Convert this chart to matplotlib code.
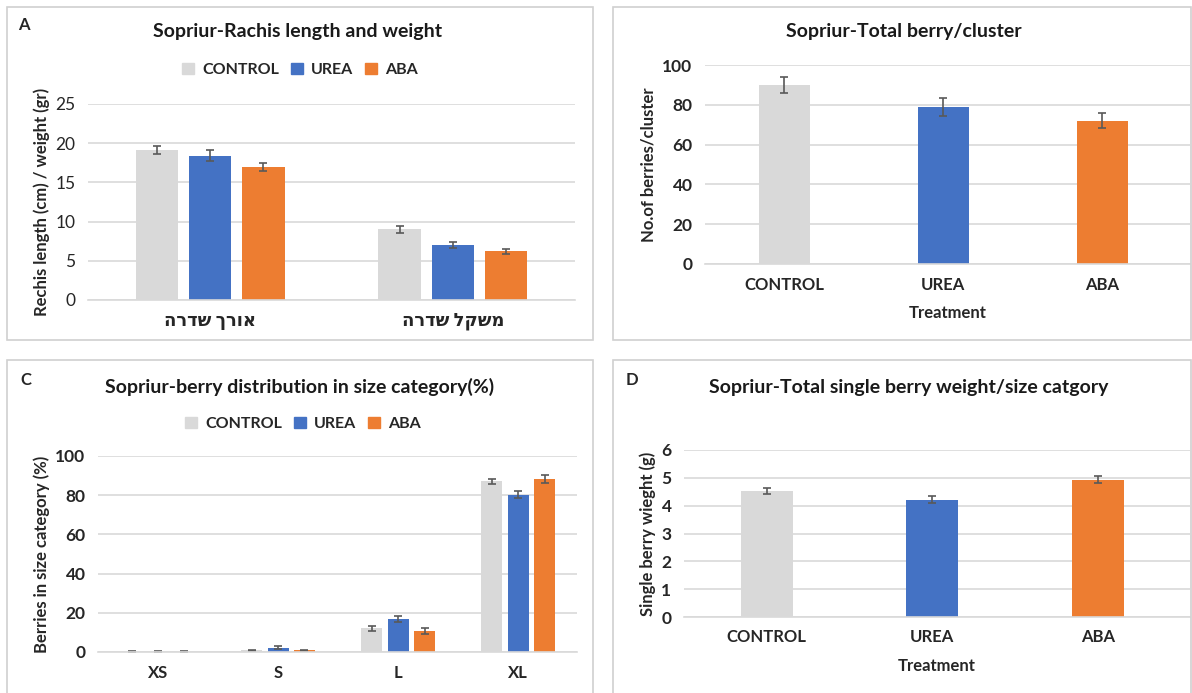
import numpy as np
import matplotlib
matplotlib.use("Agg")
import matplotlib.pyplot as plt
from matplotlib.patches import Rectangle, Patch

plt.rcParams['font.family'] = ['Lato', 'DejaVu Sans']

treatments = ['CONTROL', 'UREA', 'ABA']
colors = ['#D9D9D9', '#4472C4', '#ED7D31']

# A - rachis length / weight
rachis_cats = ['אורך שדרה', 'משקל שדרה']
rachis_vals = [[19.1, 9.0], [18.4, 7.0], [17.0, 6.2]]
rachis_err = [[0.5, 0.4], [0.7, 0.4], [0.5, 0.3]]

# B - total berries per cluster
berries_vals = [90, 79, 72]
berries_err = [4.2, 4.5, 3.8]

# C - size distribution (%)
size_cats = ['XS', 'S', 'L', 'XL']
size_vals = [[0.0, 0.8, 12.2, 87.0], [0.0, 2.2, 17.0, 80.3], [0.0, 0.8, 10.8, 88.2]]
size_err = [[0.3, 0.4, 1.3, 1.3], [0.3, 0.7, 1.6, 1.8], [0.3, 0.4, 1.6, 2.0]]

# D - single berry weight
weight_vals = [4.52, 4.22, 4.93]
weight_err = [0.10, 0.11, 0.13]

W, H = 1192, 693
fig = plt.figure(figsize=(W / 100, H / 100), dpi=100)
fig.patch.set_facecolor('white')

grid_c = '#D9D9D9'
err_c = '#595959'
txt_c = '#262626'


def px_axes(left, right, top, bottom):
    return fig.add_axes([left / W, 1 - bottom / H, (right - left) / W, (bottom - top) / H])


def style(ax, ymax, step, ybold=True):
    ax.set_ylim(0, ymax)
    ax.set_yticks(np.arange(0, ymax + step / 2, step))
    ax.yaxis.grid(True, color=grid_c, lw=1.2)
    ax.set_axisbelow(True)
    for s in ['top', 'right', 'left']:
        ax.spines[s].set_visible(False)
    ax.spines['bottom'].set_color(grid_c)
    ax.spines['bottom'].set_linewidth(1.2)
    ax.tick_params(length=0, labelsize=12, colors=txt_c, pad=9)
    for lab in ax.get_xticklabels():
        lab.set_fontweight('bold')
    for lab in ax.get_yticklabels():
        lab.set_fontweight('bold' if ybold else 'normal')
        lab.set_fontsize(12.5)


def panel_box(x0, y0, x1, y1):
    fig.patches.append(Rectangle((x0 / W, 1 - y1 / H), (x1 - x0) / W, (y1 - y0) / H,
                                 transform=fig.transFigure, fill=False,
                                 edgecolor='#D0D0D0', lw=1.2))


def legend_at(x, y):
    handles = [Patch(color=c, label=t) for c, t in zip(colors, treatments)]
    fig.legend(handles=handles, loc='center', bbox_to_anchor=(x / W, 1 - y / H), ncol=3,
               frameon=False, handlelength=0.75, handleheight=0.75, handletextpad=0.5,
               columnspacing=0.75, prop={'size': 11.5, 'weight': 'bold'},
               labelcolor=txt_c)


def title_at(x, y, s):
    fig.text(x / W, 1 - y / H, s, fontsize=14, fontweight='bold', color='#1a1a1a',
             ha='center', va='center')


panel_box(7, 7, 593, 340)
panel_box(613, 7, 1191, 340)
panel_box(7, 360, 593, 700)
panel_box(613, 360, 1191, 700)

kw_err = dict(ecolor=err_c, capsize=3, error_kw=dict(lw=1.2, capthick=1.2))
lab_kw = dict(fontsize=12, fontweight='bold', color=txt_c)

# Panel A
ax = px_axes(88, 575, 104, 300)
x = np.arange(len(rachis_cats))
off = 0.219
for i in range(3):
    ax.bar(x + (i - 1) * off, rachis_vals[i], 0.175, color=colors[i],
           yerr=rachis_err[i], **kw_err)
ax.set_xlim(-0.504, 1.504)
ax.set_xticks(x)
ax.set_xticklabels([c[::-1] for c in rachis_cats])
style(ax, 25, 5, ybold=False)
for lab in ax.get_xticklabels():
    lab.set_fontsize(13)
ax.set_ylabel('Rechis length (cm) / weight (gr)', **lab_kw)
fig.text(18 / W, 1 - 25 / H, 'A', fontsize=12, fontweight='bold', color=txt_c, va='center')
title_at(298, 32, 'Sopriur-Rachis length and weight')
legend_at(300, 70)

# Panel B
ax = px_axes(705, 1190, 65, 264)
x = np.arange(3)
ax.bar(x, berries_vals, 0.32, color=colors, yerr=berries_err, **kw_err)
ax.set_xlim(-0.497, 2.55)
ax.set_xticks(x)
ax.set_xticklabels(treatments)
style(ax, 100, 20)
ax.set_ylabel('No.of berries/cluster', **lab_kw)
ax.set_xlabel('Treatment', labelpad=9, **lab_kw)
title_at(904, 32, 'Sopriur-Total berry/cluster')

# Panel C
ax = px_axes(98, 577, 456, 652)
x = np.arange(len(size_cats))
for i in range(3):
    ax.bar(x + (i - 1) * 0.22, size_vals[i], 0.175, color=colors[i],
           yerr=size_err[i], **kw_err)
ax.set_xlim(-0.5, 3.49)
ax.set_xticks(x)
ax.set_xticklabels(size_cats)
style(ax, 100, 20)
ax.set_ylabel('Berries in size category (%)', **lab_kw)
fig.text(20 / W, 1 - 380 / H, 'C', fontsize=12, fontweight='bold', color=txt_c, va='center')
title_at(300, 387, 'Sopriur-berry distribution in size category(%)')
legend_at(303, 424)

# Panel D
ax = px_axes(684, 1190, 450, 617)
x = np.arange(3)
ax.bar(x, weight_vals, 0.314, color=colors, yerr=weight_err, **kw_err)
ax.set_xlim(-0.50, 2.556)
ax.set_xticks(x)
ax.set_xticklabels(treatments)
style(ax, 6, 1)
ax.set_ylabel('Single berry wieght (g)', **lab_kw)
ax.set_xlabel('Treatment', labelpad=9, **lab_kw)
fig.text(626 / W, 1 - 380 / H, 'D', fontsize=12, fontweight='bold', color=txt_c, va='center')
title_at(909, 387, 'Sopriur-Total single berry weight/size catgory')

fig.savefig('out.png', dpi=100, facecolor='white')
